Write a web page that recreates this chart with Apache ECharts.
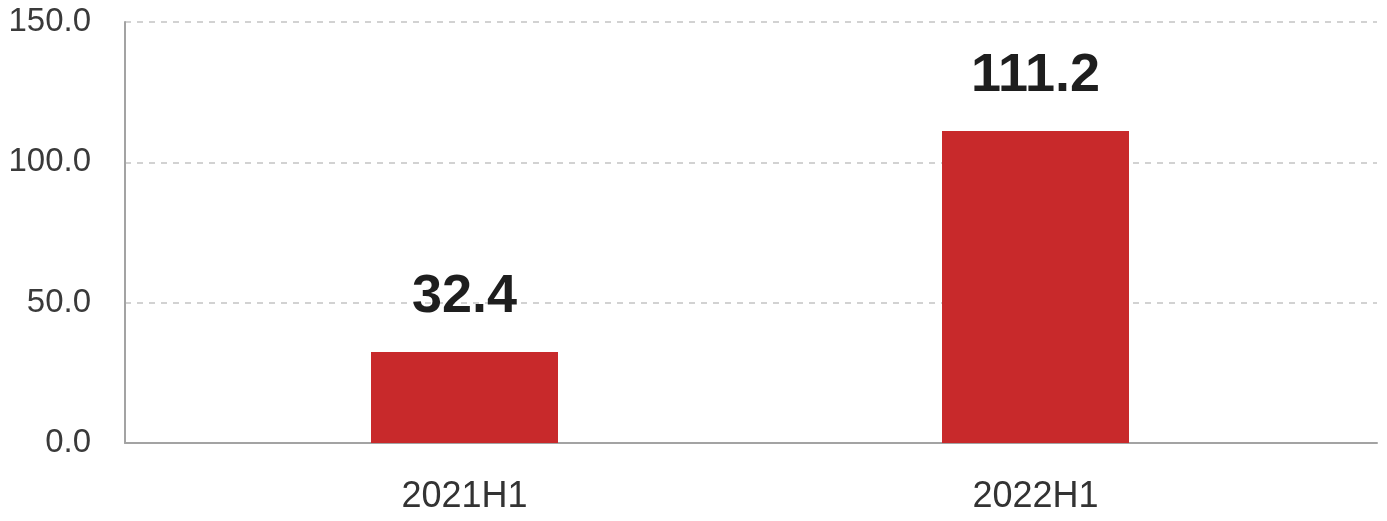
<!DOCTYPE html>
<html>
<head>
<meta charset="utf-8">
<script src="https://cdn.jsdelivr.net/npm/echarts@6/dist/echarts.min.js"></script>
<style>
  html, body { margin: 0; padding: 0; background: #ffffff; }
  #chart { width: 1387px; height: 521px; }
</style>
</head>
<body>
<div id="chart"></div>
<script>
// Half-year totals
const categories = ['2021H1', '2022H1'];
const values = [32.4, 111.2];
const yMin = 0;
const yMax = 150;
const yStep = 50;

const chart = echarts.init(document.getElementById('chart'));

const axisGray = '#a3a3a3';
const gridGray = '#c4c4c4';
const font = '"Liberation Sans", Arial, sans-serif';

chart.setOption({
  animation: false,
  backgroundColor: '#ffffff',
  grid: [
    // frame: y axis, dashed grid lines, baseline
    { left: 125, right: 10, top: 22, bottom: 78, containLabel: false },
    // bars and category labels
    { left: 179, right: 66, top: 22, bottom: 78, containLabel: false }
  ],
  xAxis: [
    {
      gridIndex: 0,
      type: 'category',
      data: categories,
      axisLine: { show: true, lineStyle: { color: axisGray, width: 2 } },
      axisTick: { show: false },
      axisLabel: { show: false },
      splitLine: { show: false }
    },
    {
      gridIndex: 1,
      type: 'category',
      data: categories,
      axisLine: { show: false },
      axisTick: { show: false },
      axisLabel: {
        margin: 36,
        color: '#333333',
        fontFamily: font,
        fontSize: 36
      }
    }
  ],
  yAxis: [
    {
      gridIndex: 0,
      type: 'value',
      min: yMin,
      max: yMax,
      interval: yStep,
      axisLine: { show: true, lineStyle: { color: axisGray, width: 2 } },
      axisTick: { show: false },
      axisLabel: {
        margin: 34,
        color: '#3a3a3a',
        fontFamily: font,
        fontSize: 33,
        formatter: v => v.toFixed(1)
      },
      splitLine: { show: true, lineStyle: { color: gridGray, width: 1.5, type: [6, 6] } }
    },
    {
      gridIndex: 1,
      type: 'value',
      min: yMin,
      max: yMax,
      interval: yStep,
      show: false
    }
  ],
  series: [
    {
      type: 'bar',
      xAxisIndex: 1,
      yAxisIndex: 1,
      data: values,
      barWidth: 187,
      itemStyle: { color: '#c8292b' },
      label: {
        show: true,
        position: 'top',
        distance: 28,
        color: '#1e1e1e',
        fontFamily: font,
        fontWeight: 'bold',
        fontSize: 54,
        formatter: p => p.value.toFixed(1)
      }
    }
  ]
});
</script>
</body>
</html>
